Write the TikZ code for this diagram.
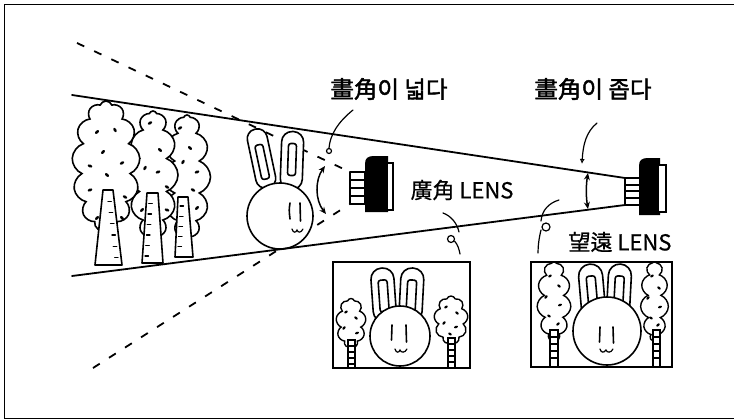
\documentclass[tikz,border=0pt]{standalone}
\usepackage{fontspec}
\newfontfamily\kr{Noto Sans CJK KR}[FakeBold=0.6]
\newfontfamily\krb{Noto Sans CJK KR}[FakeBold=1.8]
\usetikzlibrary{shapes.symbols,arrows.meta,calc}
\begin{document}
\begin{tikzpicture}[x=1pt,y=-1pt,
  outl/.style={line width=1.6pt,line join=round,line cap=round},
  thinline/.style={line width=1.2pt,line cap=round},
  fieldline/.style={line width=1.8pt,line cap=round},
  viewdash/.style={line width=1.8pt,dash pattern=on 8pt off 11pt},
  canopy/.style={cloud,cloud puffs=#1,cloud puff arc=140,cloud ignores aspect,
                 draw,fill=white,line width=1.6pt,inner sep=0pt},
  twoway/.style={line width=1.5pt,{Stealth[length=7pt,width=6pt]}-{Stealth[length=7pt,width=6pt]}},
  lbl/.style={font=\krb\fontsize{23.5}{23.5}\selectfont,inner sep=0pt},
  lenslbl/.style={font=\kr\fontsize{22}{22}\selectfont,inner sep=0pt},
  picframe/.style={line width=2.2pt},
  ladder/.style={line width=1.3pt,fill=white}
]
\useasboundingbox (0,0) rectangle (734,420);
\fill[white] (0,0) rectangle (734,420);
\draw[line width=1pt] (734,5) -- (4,5) -- (4,418) -- (734,418);

% ---- wide-angle field of view (dashed) ----
\coordinate (wTop) at (350,172);
\coordinate (wBot) at (350,204);
\coordinate (dA) at (77,43);
\coordinate (dB) at (93,368);
\draw[viewdash] (dA) -- (wTop);
\draw[viewdash] (dB) -- (wBot);

% ---- forest ----
\node[canopy=12,minimum width=47pt,minimum height=124pt] (t3) at (187,177) {};
\foreach \px/\py/\pa in {180/128/30,190/148/-40,183/162/60,197/172/20,193/190/-30,197/208/45,186/222/10}
  \fill[rotate around={\pa:(\px,\py)}] (\px,\py) ellipse [x radius=2.4pt,y radius=1.4pt];
\draw[outl,fill=white] (178,197) -- (175,257) -- (193,257) -- (188,197) -- cycle;
\foreach \t in {0.15,0.32,0.49,0.66,0.83}
  \draw[thinline] ($(178,197)!\t!(175,257)+(2.5,0)$) -- ++(3.5,0);

\node[canopy=12,minimum width=50pt,minimum height=128pt] (t2) at (153,175) {};
\foreach \px/\py/\pa in {150/123/30,160/150/-40,145/168/60,158/172/20,167/187/-30,142/210/45,167/210/-20,150/228/10}
  \fill[rotate around={\pa:(\px,\py)}] (\px,\py) ellipse [x radius=2.4pt,y radius=1.4pt];
\draw[outl,fill=white] (147,193) -- (142,263) -- (163,263) -- (158,193) -- cycle;
\foreach \t in {0.15,0.3,0.45,0.6,0.75,0.9}
  \draw[thinline] ($(147,193)!\t!(142,263)+(2.5,0)$) -- ++(3.5,0);

\node[canopy=13,minimum width=68pt,minimum height=130pt] (t1) at (106,166) {};
\foreach \px/\py/\pa in {97/132/40,115/130/-60,103/152/50,90/166/-20,122/163/30,107/175/-40,90/190/20,125/197/-30,97/218/45,122/218/-50,110/205/10}
  \fill[rotate around={\pa:(\px,\py)}] (\px,\py) ellipse [x radius=2.4pt,y radius=1.4pt];
\draw[outl,fill=white] (103,190) -- (95,265) -- (122,265) -- (113,190) -- cycle;
\foreach \t in {0.15,0.3,0.45,0.6,0.75,0.9}
  \draw[thinline] ($(113,190)!\t!(122,265)+(-6.5,0)$) -- ++(3.5,0);

% ---- rabbit ----
\begin{scope}[shift={(261.5,158.5)},rotate=12]
  \draw[outl,fill=white,rounded corners=9.5pt] (-10,-30) rectangle (10,30);
  \draw[outl,rounded corners=2.5pt] (-4,-14) rectangle (4,21);
\end{scope}
\begin{scope}[shift={(292,159.5)},rotate=-2]
  \draw[outl,fill=white,rounded corners=10.5pt] (-11,-28) rectangle (11,30);
  \draw[outl,rounded corners=2.5pt] (-4,-16) rectangle (4,16);
\end{scope}
\draw[outl,fill=white] (280,216) circle [radius=33pt];
\draw[outl] (290,203) .. controls (289,210) .. (290,219);
\draw[outl] (300,203) .. controls (301,212) .. (300.5,221);
\draw[thinline] (292,229) .. controls (293,233) and (296,233) .. (297,230)
                .. controls (298,233) and (301,233) .. (303,229);

% ---- telephoto field of view (solid) ----
\coordinate (tTop) at (625,178);
\coordinate (tBot) at (625,205);
\coordinate (sA) at (72,95);
\coordinate (sB) at (72,276);
\draw[fieldline] (sA) -- (tTop);
\draw[fieldline] (sB) -- (tBot);

% ---- wide-angle lens ----
\draw[outl,fill=white] (wTop) rectangle (365,204);
\foreach \yy in {180,188,196} \draw[line width=1.3pt] (350,\yy) -- (365,\yy);
\fill (365,164) .. controls (365,158) and (368,156) .. (374,156) -- (388,156) -- (388,212) -- (365,212) -- cycle;
\draw[line width=1.2pt,fill=white] (387,163) rectangle (393,210);

% ---- telephoto lens ----
\draw[outl,fill=white] (tTop) rectangle (640,205);
\foreach \yy in {185,191,198} \draw[line width=1.3pt] (625,\yy) -- (640,\yy);
\fill (639,166) .. controls (639,160) and (642,158) .. (648,158) -- (660,158) -- (660,215) -- (639,215) -- cycle;
\draw[line width=1.2pt,fill=white] (658,165) rectangle (666,212);

% ---- angle arrows ----
\coordinate (wa1) at (325,166);
\coordinate (wa2) at (326,214);
\draw[twoway] (wa1) .. controls (315,180) and (315,200) .. (wa2);
\coordinate (ta1) at (588,173);
\coordinate (ta2) at (588,209);
\draw[twoway] (ta1) .. controls (586,185) and (586,197) .. (ta2);

% ---- labels ----
\node[lbl] (wideTxt) at (389,89) {畫角이 넓다};
\node[lbl] (narrowTxt) at (593,89) {畫角이 좁다};
\node[lenslbl] (wideLens) at (462,190) {廣角 LENS};
\node[lenslbl] (teleLens) at (620,242) {望遠 LENS};

% ---- leaders ----
\coordinate (lw0) at (353,110);
\coordinate (lw1) at (329,148);
\draw[thinline] (lw0) .. controls (338,122) and (330,135) .. (lw1);
\draw[thinline] (329,151) circle [radius=2.5pt];
\coordinate (ln0) at (597,123);
\coordinate (ln1) at (582,164);
\draw[thinline,-{Latex[open,length=5pt,width=5pt]}] (ln0) .. controls (586,132) and (583,145) .. (ln1);

\coordinate (fw0) at (443,213);
\coordinate (fw1) at (459,232);
\draw[thinline] (fw0) .. controls (451,216) and (457,223) .. (fw1);
\draw[thinline] (451,239) circle [radius=3.5pt];
\draw[thinline] (454.5,241) .. controls (458,245) and (459,249) .. (460,254);

\coordinate (ft0) at (559,200);
\coordinate (ft1) at (541,221);
\draw[thinline] (ft0) .. controls (549,203) and (542,210) .. (ft1);
\draw[thinline] (546,227) circle [radius=4pt];
\draw[thinline] (541,230) .. controls (539,238) and (538,246) .. (538,253);

% ---- picture taken with the wide-angle lens ----
\begin{scope}
  \clip (333,262) rectangle (470,368);
  \node[canopy=9,minimum width=30pt,minimum height=49pt,line width=1.4pt] at (351,323) {};
  \foreach \px/\py/\pa in {346/312/30,356/318/-40,344/328/50,357/333/20}
    \fill[rotate around={\pa:(\px,\py)}] (\px,\py) ellipse [x radius=2pt,y radius=1.2pt];
  \draw[ladder] (348,340) rectangle (355,370);
  \foreach \yy in {346,352,358,364} \draw[line width=1.1pt] (348,\yy) -- (355,\yy);
  \node[canopy=9,minimum width=34pt,minimum height=48pt,line width=1.4pt] at (451,320) {};
  \foreach \px/\py/\pa in {446/307/30,457/313/-40,444/323/50,456/327/20,450/334/-30}
    \fill[rotate around={\pa:(\px,\py)}] (\px,\py) ellipse [x radius=2pt,y radius=1.2pt];
  \draw[ladder] (448,338) rectangle (455,370);
  \foreach \yy in {344,350,356,362} \draw[line width=1.1pt] (448,\yy) -- (455,\yy);
  \begin{scope}[shift={(383.5,294)},rotate=4]
    \draw[outl,fill=white,rounded corners=11pt] (-11.5,-26) rectangle (11.5,28);
    \draw[outl,rounded corners=2.5pt] (-4.5,-14) rectangle (4.5,18);
  \end{scope}
  \begin{scope}[shift={(411.5,294)},rotate=-3]
    \draw[outl,fill=white,rounded corners=11pt] (-11.5,-26) rectangle (11.5,28);
    \draw[outl,rounded corners=2.5pt] (-4.5,-14) rectangle (4.5,18);
  \end{scope}
  \draw[outl,fill=white] (400,336) circle [radius=30pt];
  \draw[outl] (392,325) -- (391.5,340);
  \draw[outl] (406,325) -- (406.5,342);
  \draw[thinline] (395,349) .. controls (396,353) and (399,353) .. (400,350)
                  .. controls (401,353) and (405,353) .. (407,349);
\end{scope}
\draw[picframe] (333,262) rectangle (470,368);

% ---- picture taken with the telephoto lens ----
\begin{scope}
  \clip (531,262) rectangle (672,367);
  \node[canopy=11,minimum width=34pt,minimum height=79pt,line width=1.4pt] at (554,301) {};
  \foreach \px/\py/\pa in {550/276/30,559/286/-40,546/297/50,560/305/20,549/316/-30,558/324/40}
    \fill[rotate around={\pa:(\px,\py)}] (\px,\py) ellipse [x radius=2pt,y radius=1.2pt];
  \draw[ladder] (550,330) rectangle (558,370);
  \foreach \yy in {337,344,351,358} \draw[line width=1.1pt] (550,\yy) -- (558,\yy);
  \node[canopy=11,minimum width=28pt,minimum height=79pt,line width=1.4pt] at (654.5,301) {};
  \foreach \px/\py/\pa in {652/276/30,659/288/-40,648/298/50,660/307/20,651/318/-30,658/325/40}
    \fill[rotate around={\pa:(\px,\py)}] (\px,\py) ellipse [x radius=2pt,y radius=1.2pt];
  \draw[ladder] (653,330) rectangle (660,370);
  \foreach \yy in {337,344,351,358} \draw[line width=1.1pt] (653,\yy) -- (660,\yy);
  \begin{scope}[shift={(592,292)},rotate=5]
    \draw[outl,fill=white,rounded corners=12pt] (-12,-28) rectangle (12,30);
    \draw[outl,rounded corners=2.5pt] (-4.5,-16) rectangle (4.5,16);
  \end{scope}
  \begin{scope}[shift={(619,292)},rotate=-3]
    \draw[outl,fill=white,rounded corners=11.5pt] (-11.5,-28) rectangle (11.5,30);
    \draw[outl,rounded corners=2.5pt] (-4.5,-16) rectangle (4.5,16);
  \end{scope}
  \draw[outl,fill=white] (607,331) circle [radius=34pt];
  \draw[outl] (600,327) -- (599.5,342);
  \draw[outl] (613,327) -- (613.5,343);
  \draw[thinline] (600,349) .. controls (601,353) and (604,353) .. (606,350)
                  .. controls (607,353) and (611,353) .. (613,349);
\end{scope}
\draw[picframe] (531,262) rectangle (672,367);
\end{tikzpicture}
\end{document}
